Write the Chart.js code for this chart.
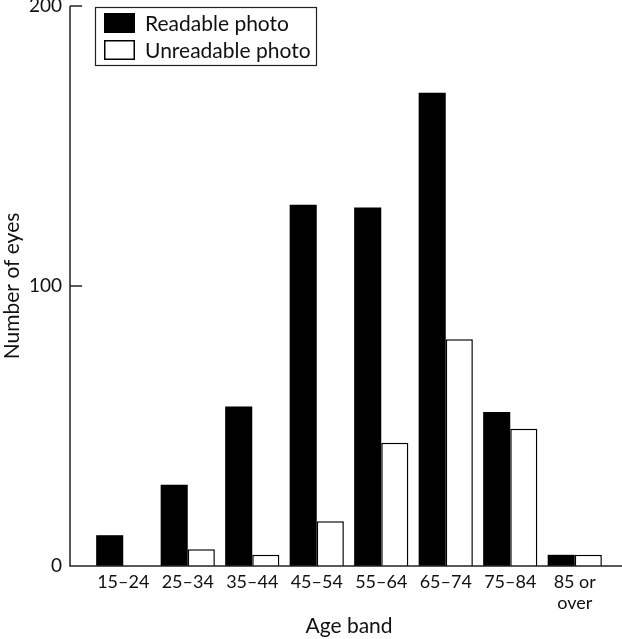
<!DOCTYPE html>
<html>
<head>
<meta charset="utf-8">
<script src="https://cdn.jsdelivr.net/npm/chart.js@4"></script>
<style>
  html, body { margin: 0; padding: 0; background: #fff; }
  #wrap { width: 622px; height: 639px; }
</style>
</head>
<body>
<div id="wrap"><canvas id="barChart" width="622" height="639"></canvas></div>
<script>
var ageBands = ['15–24', '25–34', '35–44', '45–54', '55–64', '65–74', '75–84', ['85 or', 'over']];
var readable = [11, 29, 57, 129, 128, 169, 55, 4];
var unreadable = [0, 6, 4, 16, 44, 81, 49, 4];
var yTicks = [0, 100, 200];

var FONT = 'Lato, "Open Sans", sans-serif';

// axis lines sit left of the bar area, so draw them from the y scale
var axisLines = {
    id: 'axisLines',
    afterDatasetsDraw: function (chart) {
        var c = chart.ctx, y = chart.scales.y;
        var x0 = 70;
        c.save();
        c.strokeStyle = '#222';
        c.lineWidth = 1.5;
        c.beginPath();
        c.moveTo(x0, y.getPixelForValue(200));
        c.lineTo(x0, y.getPixelForValue(0));
        c.lineTo(chart.width, y.getPixelForValue(0));
        yTicks.forEach(function (v) {
            c.moveTo(x0, y.getPixelForValue(v));
            c.lineTo(x0 + 12, y.getPixelForValue(v));
        });
        c.stroke();
        c.restore();
    }
};

var boxLegend = {
    id: 'boxLegend',
    afterDraw: function (chart) {
        var c = chart.ctx;
        c.save();
        c.strokeStyle = '#222';
        c.lineWidth = 1.2;
        c.strokeRect(95.5, 7.5, 221, 58);
        c.font = '21px ' + FONT;
        c.textBaseline = 'middle';
        chart.data.datasets.forEach(function (ds, i) {
            var top = 13 + i * 27;
            c.fillStyle = ds.backgroundColor;
            c.fillRect(104, top, 31, 20);
            c.strokeStyle = '#000';
            c.lineWidth = 1.5;
            c.strokeRect(104.75, top + 0.75, 29.5, 18.5);
            c.fillStyle = '#111';
            c.fillText(ds.label, 145, top + 11);
        });
        c.restore();
    }
};

var ctx = document.getElementById('barChart').getContext('2d');
var myChart = new Chart(ctx, {
    type: 'bar',
    data: {
        labels: ageBands,
        datasets: [{
            label: 'Readable photo',
            data: readable,
            backgroundColor: '#000',
            borderColor: '#000',
            borderWidth: 0
        }, {
            label: 'Unreadable photo',
            data: unreadable,
            backgroundColor: '#fff',
            borderColor: '#000',
            borderWidth: 1.5
        }]
    },
    options: {
        responsive: false,
        animation: false,
        layout: { padding: { top: 6, right: 15 } },
        datasets: { bar: { categoryPercentage: 0.84, barPercentage: 1 } },
        plugins: { legend: { display: false }, tooltip: { enabled: false } },
        scales: {
            x: {
                grid: { display: false, drawTicks: false },
                border: { display: false },
                ticks: { color: '#111', font: { family: FONT, size: 18 }, padding: 5, maxRotation: 0, autoSkip: false },
                title: { display: true, text: 'Age band', color: '#111', font: { family: FONT, size: 21 }, padding: { top: 0, bottom: 0 } },
                afterFit: function (s) { s.height = 73; s.paddingLeft = 0; s.paddingRight = 0; }
            },
            y: {
                min: 0,
                max: 200,
                grid: { display: false, drawTicks: false },
                border: { display: false },
                ticks: { stepSize: 100, color: '#111', font: { family: FONT, size: 19 }, padding: 29 },
                title: { display: true, text: 'Number of eyes', color: '#111', font: { family: FONT, size: 21 }, padding: 0 },
                afterFit: function (s) { s.width = 91; s.paddingTop = 0; s.paddingBottom = 0; }
            }
        }
    },
    plugins: [axisLines, boxLegend]
});
</script>
</body>
</html>
